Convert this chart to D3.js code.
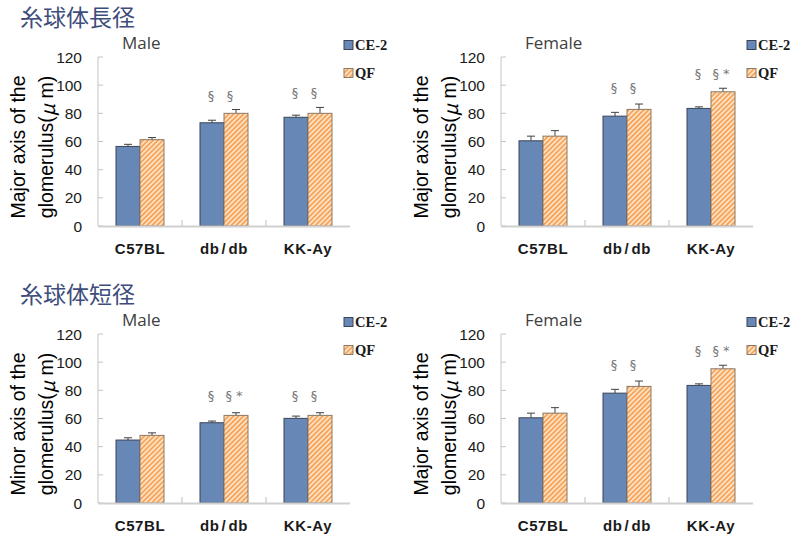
<!DOCTYPE html>
<html>
<head>
<meta charset="utf-8">
<script src="https://cdn.jsdelivr.net/npm/d3@7"></script>
<style>
  body { margin: 0; background: #fff; }
  svg { display: block; }
</style>
</head>
<body>
<svg id="canvas" width="800" height="543"></svg>
<script>
// categories and series
const categories = ["C57BL", "db/db", "KK-Ay"];
const seriesNames = ["CE-2", "QF"];
const yTicks = [0, 20, 40, 60, 80, 100, 120];

// male, major axis
const maleMajorCE2 = [56.5, 73.3, 77.2];
const maleMajorCE2Err = [1.5, 1.8, 1.5];
const maleMajorQF = [61.3, 80.0, 80.0];
const maleMajorQFErr = [1.5, 2.7, 4.2];
const maleMajorSig = [["", ""], ["§", "§"], ["§", "§"]];
const maleMajorSigAt = [0, 93, 95];

// female, major axis
const femaleMajorCE2 = [60.5, 78.0, 83.5];
const femaleMajorCE2Err = [3.3, 2.7, 1.1];
const femaleMajorQF = [63.8, 82.8, 95.3];
const femaleMajorQFErr = [3.9, 3.8, 2.5];
const femaleMajorSig = [["", ""], ["§", "§"], ["§", "§ *"]];
const femaleMajorSigAt = [0, 98.5, 108.8];

// male, minor axis
const maleMinorCE2 = [44.7, 57.0, 60.1];
const maleMinorCE2Err = [1.6, 1.2, 1.6];
const maleMinorQF = [48.0, 62.2, 62.2];
const maleMinorQFErr = [1.8, 1.9, 1.9];
const maleMinorSig = [["", ""], ["§", "§ *"], ["§", "§"]];
const maleMinorSigAt = [0, 76.5, 76.5];

const svg = d3.select('#canvas');

// hatch pattern for QF
const defs = svg.append('defs');
const pat = defs.append('pattern')
    .attr('id', 'hatch')
    .attr('patternUnits', 'userSpaceOnUse')
    .attr('width', 3.5).attr('height', 3.5)
    .attr('patternTransform', 'rotate(45)');
pat.append('rect').attr('width', 3.5).attr('height', 3.5).attr('fill', '#fde3c6');
pat.append('rect').attr('width', 1.8).attr('height', 3.5).attr('fill', '#f7a45a');

const blue = '#6787b6';

// section titles
svg.append('text').attr('x', 20).attr('y', 26)
    .attr('font-family', 'Noto Sans CJK JP').attr('font-size', 23)
    .attr('fill', '#3e4d7b').text('糸球体長径');
svg.append('text').attr('x', 20).attr('y', 303)
    .attr('font-family', 'Noto Sans CJK JP').attr('font-size', 23)
    .attr('fill', '#3e4d7b').text('糸球体短径');

function drawPanel(ox, oy, title, ylabel, ce2, ce2Err, qf, qfErr, sig, sigAt) {
    const g = svg.append('g');

    const x = d3.scaleBand().domain(categories).range([ox, ox + 252]);
    const xs = d3.scaleBand().domain(seriesNames).range([0, 48]);
    const y = d3.scaleLinear().domain([0, 120]).range([oy, oy - 169]);

    // axes lines
    g.append('line').attr('x1', ox).attr('x2', ox)
        .attr('y1', y(0)).attr('y2', y(120))
        .attr('stroke', '#c4c4c4').attr('stroke-width', 1);
    g.selectAll('.ytick').data(yTicks).join('line')
        .attr('x1', ox).attr('x2', ox + 5)
        .attr('y1', d => y(d)).attr('y2', d => y(d))
        .attr('stroke', '#c4c4c4');
    g.selectAll('.ylab').data(yTicks).join('text')
        .attr('x', ox - 16).attr('y', d => y(d) + 5.5)
        .attr('text-anchor', 'end')
        .attr('font-family', 'Liberation Sans, Arial').attr('font-size', 15.5)
        .attr('fill', '#1a1a1a').text(d => d);

    // x category ticks (between bands)
    g.selectAll('.xtick').data(categories.slice(1)).join('line')
        .attr('x1', d => x(d)).attr('x2', d => x(d))
        .attr('y1', y(0)).attr('y2', y(0) - 6)
        .attr('stroke', '#bdbdbd');

    // bars
    const rows = categories.map((c, i) => [
        {cat: c, s: 'CE-2', v: ce2[i], e: ce2Err[i], sig: sig[i][0], at: sigAt[i]},
        {cat: c, s: 'QF', v: qf[i], e: qfErr[i], sig: sig[i][1], at: sigAt[i]}
    ]).flat();
    const bx = d => x(d.cat) + (x.bandwidth() - 48) / 2 + xs(d.s);

    // error bars (upper only)
    g.selectAll('.err').data(rows).join('line')
        .attr('x1', d => bx(d) + 12).attr('x2', d => bx(d) + 12)
        .attr('y1', d => y(d.v)).attr('y2', d => y(d.v + d.e))
        .attr('stroke', '#404040');
    g.selectAll('.cap').data(rows).join('line')
        .attr('x1', d => bx(d) + 8).attr('x2', d => bx(d) + 16)
        .attr('y1', d => y(d.v + d.e)).attr('y2', d => y(d.v + d.e))
        .attr('stroke', '#404040');

    g.selectAll('.bar').data(rows).join('rect')
        .attr('x', d => bx(d)).attr('width', xs.bandwidth())
        .attr('y', d => y(d.v)).attr('height', d => y(0) - y(d.v))
        .attr('fill', d => d.s === 'CE-2' ? blue : 'url(#hatch)')
        .attr('stroke', d => d.s === 'CE-2' ? '#3b4556' : '#8a7865')
        .attr('stroke-width', 1);

    // x axis line
    g.append('line').attr('x1', ox).attr('x2', ox + 252)
        .attr('y1', y(0) + 0.5).attr('y2', y(0) + 0.5)
        .attr('stroke', '#d0d0d0').attr('stroke-width', 2);

    // significance marks
    g.selectAll('.sig').data(rows.filter(d => d.sig)).join('text')
        .attr('x', d => bx(d) + 12 + (d.s === 'QF' ? (d.sig.length > 1 ? -2 : -6) : -1))
        .attr('y', d => y(d.at) + 5)
        .attr('text-anchor', 'middle')
        .attr('font-family', 'DejaVu Sans').attr('font-size', 13)
        .attr('fill', '#7a7a7a')
        .attr('xml:space', 'preserve')
        .text(d => d.sig);

    // category labels (slash gets a little room, like the original)
    g.selectAll('.xlab').data(categories).join('text')
        .attr('x', d => x(d) + x.bandwidth() / 2).attr('y', y(0) + 28)
        .attr('text-anchor', 'middle')
        .attr('font-family', 'Liberation Sans, Arial').attr('font-weight', 'bold')
        .attr('font-size', 15).attr('letter-spacing', 0.6).attr('fill', '#1a1a1a')
        .each(function(d) {
            const parts = d.split('/');
            const t = d3.select(this);
            parts.forEach((p, i) => {
                if (i > 0) t.append('tspan').attr('dx', 2).text('/');
                t.append('tspan').attr('dx', i > 0 ? 2 : 0).text(p);
            });
        });

    // panel title
    g.append('text').attr('x', ox + 24).attr('y', oy - 177)
        .attr('font-family', 'Open Sans').attr('font-size', 17)
        .attr('fill', '#404040').text(title);

    // y axis label (two lines)
    const cy = oy - 79;
    g.append('text')
        .attr('transform', `translate(${ox - 80},${cy}) rotate(-90)`)
        .attr('text-anchor', 'middle').attr('dominant-baseline', 'central')
        .attr('font-family', 'Liberation Sans, Arial').attr('font-size', 19.5)
        .attr('fill', '#000').text(ylabel);
    const l2 = g.append('text')
        .attr('transform', `translate(${ox - 52},${cy}) rotate(-90)`)
        .attr('text-anchor', 'middle').attr('dominant-baseline', 'central')
        .attr('font-family', 'Liberation Sans, Arial').attr('font-size', 19.5)
        .attr('fill', '#000');
    l2.append('tspan').text('glomerulus(');
    l2.append('tspan').attr('font-family', 'Noto Sans CJK JP').attr('font-style', 'italic').text('μ');
    l2.append('tspan').text(' m)');

    // legend
    const leg = g.append('g');
    seriesNames.forEach((s, i) => {
        const ly = oy - 181 + i * 28;
        leg.append('rect').attr('x', ox + 246).attr('y', ly - 4.5)
            .attr('width', 9).attr('height', 9)
            .attr('fill', s === 'CE-2' ? blue : 'url(#hatch)')
            .attr('stroke', s === 'CE-2' ? '#3b4556' : '#8a7865');
        leg.append('text').attr('x', ox + 257).attr('y', ly + 5)
            .attr('font-family', 'Liberation Serif, Times New Roman').attr('font-weight', 'bold')
            .attr('font-size', 14.5).attr('fill', '#1a1a1a').text(s);
    });
}

drawPanel(98, 226, 'Male', 'Major axis of the', maleMajorCE2, maleMajorCE2Err, maleMajorQF, maleMajorQFErr, maleMajorSig, maleMajorSigAt);
drawPanel(501, 226, 'Female', 'Major axis of the', femaleMajorCE2, femaleMajorCE2Err, femaleMajorQF, femaleMajorQFErr, femaleMajorSig, femaleMajorSigAt);
drawPanel(98, 503, 'Male', 'Minor axis of the', maleMinorCE2, maleMinorCE2Err, maleMinorQF, maleMinorQFErr, maleMinorSig, maleMinorSigAt);
drawPanel(501, 503, 'Female', 'Major axis of the', femaleMajorCE2, femaleMajorCE2Err, femaleMajorQF, femaleMajorQFErr, femaleMajorSig, femaleMajorSigAt);
</script>
</body>
</html>
